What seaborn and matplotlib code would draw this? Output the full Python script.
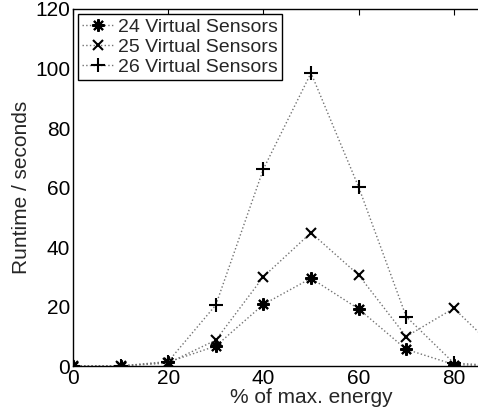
import numpy as np
import pandas as pd
import seaborn as sns
import matplotlib.pyplot as plt

energy = [0, 10, 20, 30, 40, 50, 60, 70, 80, 90]
vs24 = [0, 0, 1.3, 6.7, 20.7, 29.5, 19.2, 5.6, 0.5, 0]
vs25 = [0, 0, 1.0, 8.7, 30.0, 44.8, 30.6, 9.9, 19.4, 4.0]
vs26 = [0, 0, 1.5, 20.5, 66.2, 98.5, 60.2, 16.6, 1.0, 0]
labels = ["24 Virtual Sensors", "25 Virtual Sensors", "26 Virtual Sensors"]

sns.set_style("white")
plt.rcParams["font.family"] = ["Liberation Sans", "DejaVu Sans"]

fig = plt.figure(figsize=(4.78, 4.19), dpi=100)
# axes run past the right edge, as in the cropped original
ax = fig.add_axes([73 / 478, 53 / 419, 476 / 478, 357 / 419])

markers = [(8, 2, 0), "x", "+"]
msizes = [9, 7, 10]
for vals, lab, m, ms in zip([vs24, vs25, vs26], labels, markers, msizes):
    df = pd.DataFrame({"energy": energy, "runtime": vals})
    sns.lineplot(data=df, x="energy", y="runtime", ax=ax, label=lab,
                 color="0.45", linestyle=":", linewidth=1.0, marker=m,
                 markersize=ms, markeredgewidth=1.5, markeredgecolor="k",
                 markerfacecolor="k")

ax.set_xlim(0, 100)
ax.set_ylim(0, 120)
ax.set_xticks([0, 20, 40, 60, 80])
ax.set_yticks([0, 20, 40, 60, 80, 100, 120])
ax.tick_params(direction="in", length=4, width=0.8, labelsize=15,
               top=True, right=True, colors="k", pad=2)
for s in ax.spines.values():
    s.set_color("k")
    s.set_linewidth(1.0)
ax.set_xlabel("% of max. energy", fontsize=15, labelpad=0)
ax.set_ylabel("Runtime / seconds", fontsize=15, labelpad=3)

leg = ax.legend(loc="upper left", bbox_to_anchor=(5 / 476, 1 - 5 / 357),
                borderaxespad=0, fontsize=14, frameon=True, fancybox=False,
                edgecolor="k", framealpha=1, labelspacing=0.12,
                handlelength=1.65, handletextpad=0.2, borderpad=0.22)
leg.get_frame().set_linewidth(1.0)

fig.savefig("out.png", dpi=100, facecolor="white")
